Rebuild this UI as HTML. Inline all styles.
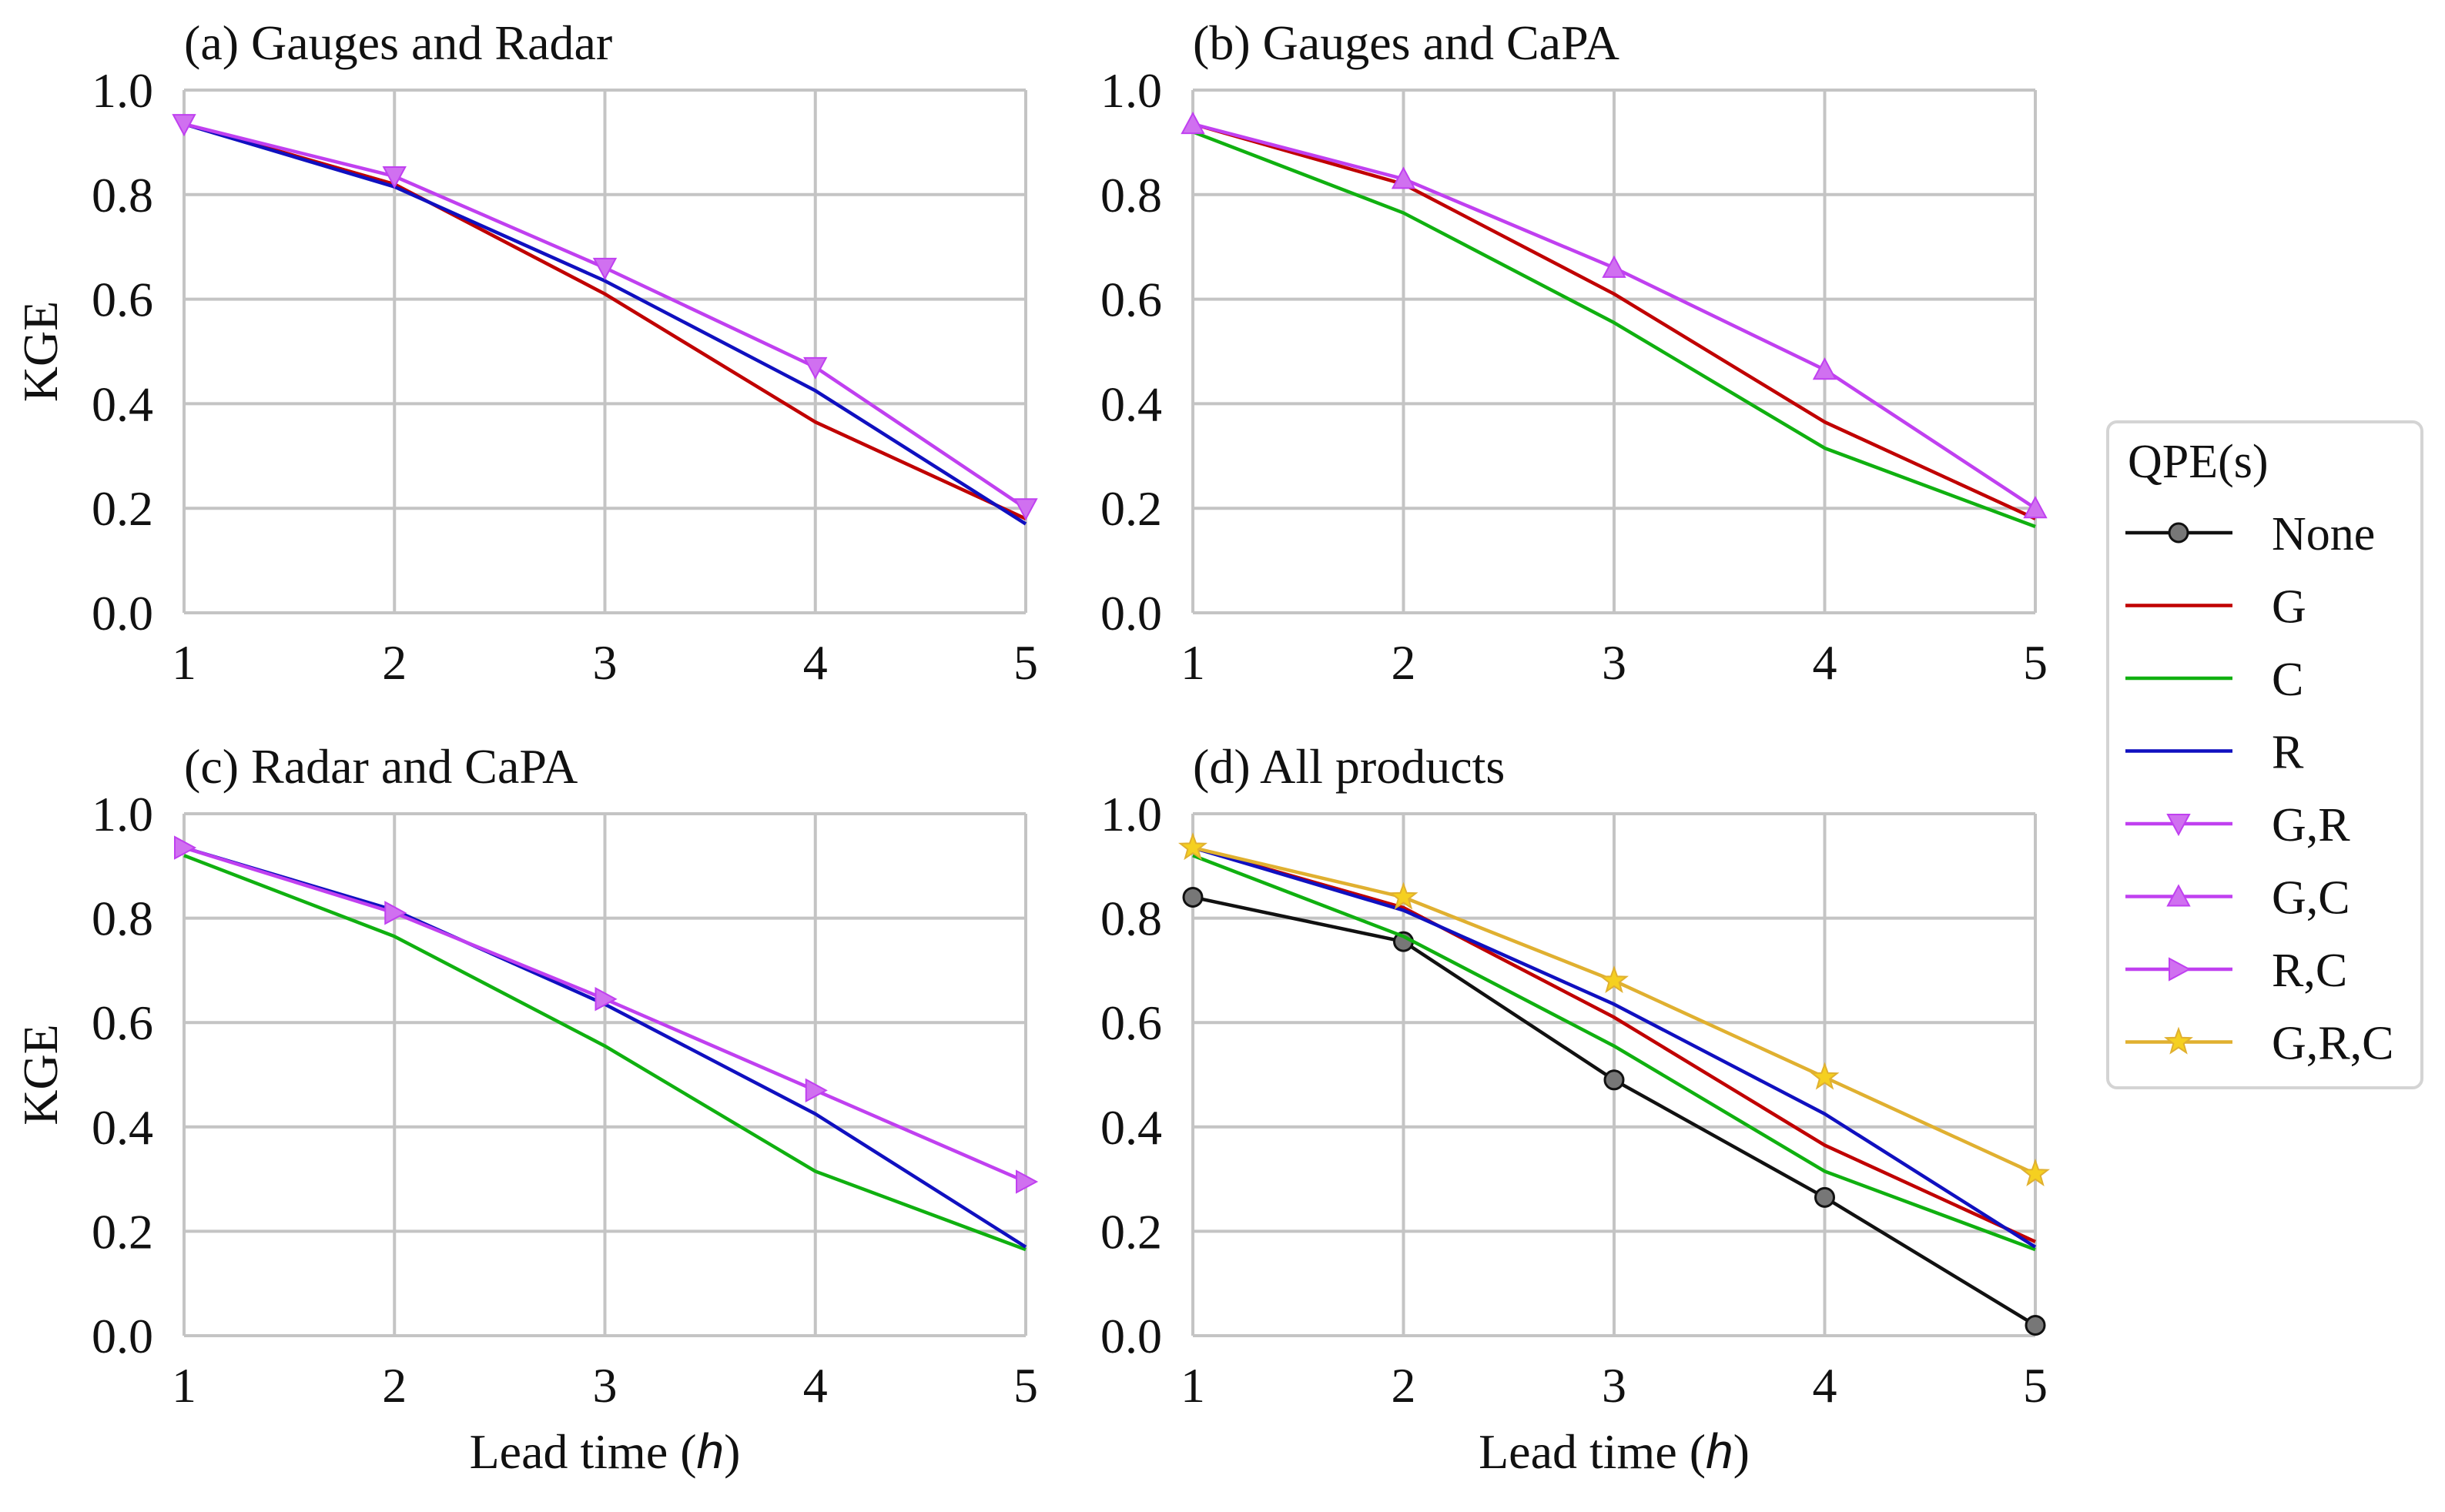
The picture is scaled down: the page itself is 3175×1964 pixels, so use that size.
<!DOCTYPE html>
<html><head><meta charset="utf-8"><style>
html,body{margin:0;padding:0;background:#fff}
svg{display:block}
text{font-family:"Liberation Serif",serif;fill:#111}
</style></head><body>
<svg id="chart" width="3175" height="1964" viewBox="0 0 3175 1964"></svg>
<script>
const leadTimes=[1,2,3,4,5];
const yTicks=[0,0.2,0.4,0.6,0.8,1.0];
const yTickLabels=["0.0","0.2","0.4","0.6","0.8","1.0"];
const xTickLabels=["1","2","3","4","5"];
const seriesNone=[0.84,0.755,0.49,0.265,0.02];
const seriesG=[0.935,0.82,0.61,0.365,0.18];
const seriesC=[0.92,0.765,0.555,0.315,0.165];
const seriesR=[0.935,0.815,0.635,0.425,0.17];
const seriesGR=[0.935,0.835,0.66,0.47,0.2];
const seriesGC=[0.935,0.83,0.66,0.465,0.2];
const seriesRC=[0.935,0.81,0.645,0.47,0.295];
const seriesGRC=[0.935,0.84,0.68,0.495,0.31];

const NS="http://www.w3.org/2000/svg";
const svg=document.getElementById('chart');
function mk(tag,attrs,parent){const e=document.createElementNS(NS,tag);for(const k in attrs)e.setAttribute(k,attrs[k]);(parent||svg).appendChild(e);return e;}

const styles={
 None:{color:'#111',marker:'circle'},
 G:{color:'#c00000',marker:null},
 C:{color:'#10b010',marker:null},
 R:{color:'#1010c0',marker:null},
 'G,R':{color:'#c040f0',marker:'tdown'},
 'G,C':{color:'#c040f0',marker:'tup'},
 'R,C':{color:'#c040f0',marker:'tright'},
 'G,R,C':{color:'#e0b030',marker:'star'}
};
function marker(g,type,x,y,color){
  let e;
  if(type==='circle'){e=mk('circle',{cx:x,cy:y,r:12,fill:'#777',stroke:'#111','stroke-width':3},g);}
  else if(type==='tdown'){e=mk('polygon',{points:`${x-14},${y-12} ${x+14},${y-12} ${x},${y+14}`,fill:'#d070f0',stroke:color,'stroke-width':2},g);}
  else if(type==='tup'){e=mk('polygon',{points:`${x-14},${y+12} ${x+14},${y+12} ${x},${y-14}`,fill:'#d070f0',stroke:color,'stroke-width':2},g);}
  else if(type==='tright'){e=mk('polygon',{points:`${x-12},${y-14} ${x-12},${y+14} ${x+14},${y}`,fill:'#d070f0',stroke:color,'stroke-width':2},g);}
  else if(type==='star'){let p=[];for(let i=0;i<10;i++){const r=i%2?7:17;const a=-Math.PI/2+i*Math.PI/5;p.push((x+r*Math.cos(a)).toFixed(1)+','+(y+r*Math.sin(a)).toFixed(1));}
    e=mk('polygon',{points:p.join(' '),fill:'#f5d020',stroke:color,'stroke-width':2},g);}
  if(e){}
}

const panels=[
 {id:'a',title:'(a) Gauges and Radar',x0:239,x1:1332,y0:796,y1:117,ylab:true,xlab:false,series:[['G',seriesG],['R',seriesR],['G,R',seriesGR]]},
 {id:'b',title:'(b) Gauges and CaPA',x0:1549,x1:2643,y0:796,y1:117,ylab:false,xlab:false,series:[['C',seriesC],['G',seriesG],['G,C',seriesGC]]},
 {id:'c',title:'(c) Radar and CaPA',x0:239,x1:1332,y0:1735,y1:1057,ylab:true,xlab:true,series:[['C',seriesC],['R',seriesR],['R,C',seriesRC]]},
 {id:'d',title:'(d) All products',x0:1549,x1:2643,y0:1735,y1:1057,ylab:false,xlab:true,series:[['None',seriesNone],['C',seriesC],['G',seriesG],['R',seriesR],['G,R,C',seriesGRC]]}
];

panels.forEach(p=>{
  const g=mk('g',{});
  
  
  const sx=v=>p.x0+(v-1)/4*(p.x1-p.x0);
  const sy=v=>p.y0-v*(p.y0-p.y1);
  yTicks.forEach((t,i)=>{
    const l=mk('line',{x1:p.x0,x2:p.x1,y1:sy(t),y2:sy(t),stroke:'#c4c4c4','stroke-width':4},g);
    
    const tx=mk('text',{x:p.x0-40,y:sy(t)+22,'font-size':64,'text-anchor':'end'},g);
    tx.textContent=yTickLabels[i];
    
  });
  leadTimes.forEach((t,i)=>{
    const l=mk('line',{x1:sx(t),x2:sx(t),y1:p.y0,y2:p.y1,stroke:'#c4c4c4','stroke-width':4},g);
    
    const tx=mk('text',{x:sx(t),y:p.y0+86,'font-size':64,'text-anchor':'middle'},g);
    tx.textContent=xTickLabels[i];
    
  });
  const tt=mk('text',{x:p.x0,y:p.y1-40,'font-size':64},g);
  tt.textContent=p.title;
  
  if(p.ylab){
    const cy=(p.y0+p.y1)/2;
    const yl=mk('text',{x:0,y:0,'font-size':64,'text-anchor':'middle',transform:`translate(74,${cy}) rotate(-90)`},g);
    yl.textContent='KGE';
    
  }
  if(p.xlab){
    const xl=mk('text',{x:(p.x0+p.x1)/2,y:p.y0+172,'font-size':64,'text-anchor':'middle'},g);
    xl.innerHTML='Lead time (<tspan font-family="Liberation Sans, sans-serif" font-style="italic">h</tspan>)';
    
  }
  p.series.forEach(([name,vals])=>{
    const st=styles[name];
    const sg=mk('g',{},g);
    
    
    const pts=vals.map((v,i)=>sx(leadTimes[i])+','+sy(v)).join(' ');
    const pl=mk('polyline',{points:pts,fill:'none',stroke:st.color,'stroke-width':4.5,'stroke-linejoin':'round'},sg);
    
    if(st.marker)vals.forEach((v,i)=>marker(sg,st.marker,sx(leadTimes[i]),sy(v),st.color));
  });
});

const lg=mk('g',{});


const box=mk('rect',{x:2737,y:548,width:408,height:865,rx:12,fill:'#fff',stroke:'#d4d4d4','stroke-width':4},lg);

const lt=mk('text',{x:2763,y:620,'font-size':62},lg);
lt.textContent='QPE(s)';

const legendNames=['None','G','C','R','G,R','G,C','R,C','G,R,C'];
legendNames.forEach((n,i)=>{
  const y=692+i*94.5;
  const eg=mk('g',{},lg);
  
  
  const st=styles[n];
  mk('line',{x1:2760,x2:2899,y1:y,y2:y,stroke:st.color,'stroke-width':4.5},eg);
  if(st.marker)marker(eg,st.marker,2829,y,st.color);
  const t=mk('text',{x:2950,y:y+22,'font-size':62},eg);
  t.textContent=n;
});
</script>
</body></html>
